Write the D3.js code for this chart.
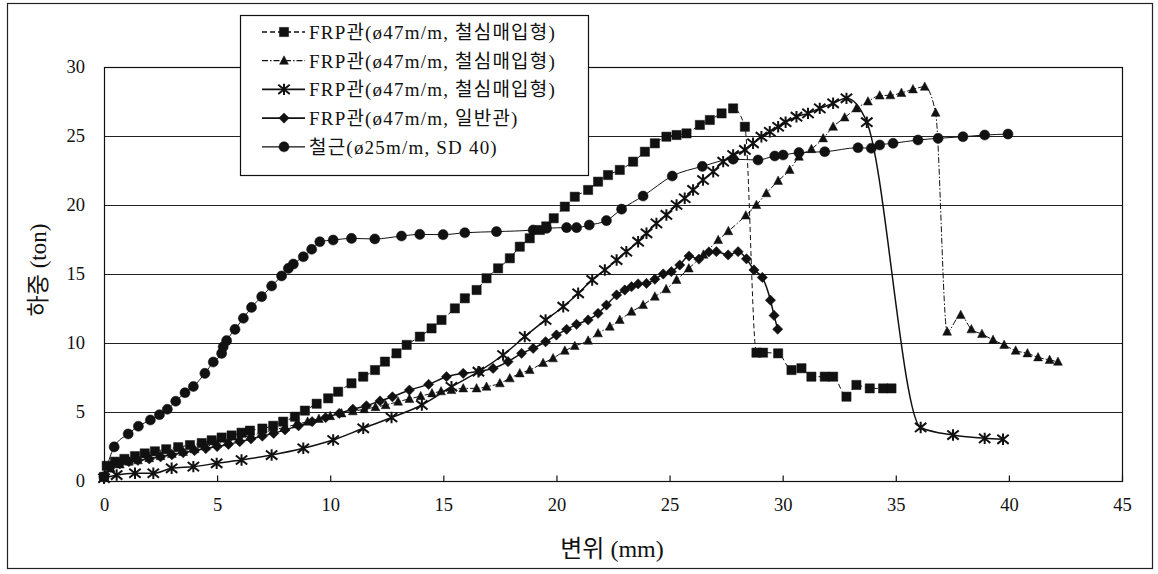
<!DOCTYPE html>
<html><head><meta charset="utf-8">
<script src="https://cdn.jsdelivr.net/npm/d3@7"></script>
<style>body{margin:0;background:#fff}svg{display:block}</style>
</head><body><svg id="c" width="1158" height="574"></svg>
<script>
// ---------------- DATA ----------------
const xTicks = [0,5,10,15,20,25,30,35,40,45];
const yTicks = [0,5,10,15,20,25,30];
const xTitle = "변위 (mm)";
const yTitle = "하중 (ton)";
const seriesNames = [
  "FRP관(ø47m/m, 철심매입형)",
  "FRP관(ø47m/m, 철심매입형)",
  "FRP관(ø47m/m, 철심매입형)",
  "FRP관(ø47m/m, 일반관)",
  "철근(ø25m/m, SD 40)"
];
// series 1 : squares
const s1x = [0,0.12,0.49,0.9,1.37,1.8,2.25,2.75,3.28,3.8,4.32,4.76,5.2,5.64,6.08,6.45,7.0,7.48,7.92,8.44,8.88,9.4,9.91,10.35,10.94,11.46,11.98,12.42,12.93,13.38,13.96,14.48,14.92,15.51,15.95,16.47,16.91,17.42,17.94,18.38,18.82,19.27,19.55,19.88,20.37,20.81,21.40,21.84,22.28,22.80,23.39,23.91,24.35,24.86,25.31,25.75,26.34,26.78,27.30,27.81,28.33,28.84,29.13,29.80,30.39,30.83,31.27,31.86,32.23,32.82,33.26,33.85,34.44,34.81];
const s1y = [0.3,1.1,1.4,1.6,1.8,2.0,2.15,2.3,2.45,2.6,2.75,2.95,3.15,3.3,3.5,3.65,3.8,4.0,4.3,4.66,5.1,5.6,5.99,6.47,7.08,7.56,8.04,8.65,9.25,9.86,10.46,11.06,11.67,12.51,13.24,13.84,14.69,15.41,16.14,16.98,17.59,18.19,18.45,19.04,19.88,20.60,21.09,21.69,22.17,22.54,23.14,23.86,24.47,24.95,25.07,25.19,25.80,26.16,26.64,27.0,25.67,9.30,9.30,9.25,8.04,8.17,7.56,7.56,7.56,6.11,6.96,6.71,6.71,6.71];
// series 2 : triangles
const s2x = [0,0.3,0.7,1.1,1.5,2.0,2.5,3.0,3.5,4.0,4.5,5.0,5.5,6.0,6.5,7.0,7.5,8.0,8.5,9.0,9.5,10.0,10.5,11.0,11.5,12.0,12.45,13.0,13.5,14.0,14.5,14.9,15.36,15.88,16.47,16.91,17.50,17.94,18.38,18.82,19.41,19.85,20.37,20.81,21.40,21.84,22.36,22.80,23.32,23.83,24.35,24.85,25.31,25.85,26.5,27.15,27.6,28.37,28.84,29.28,29.80,30.31,30.72,31.27,31.79,32.23,32.74,33.26,33.77,34.29,34.76,35.25,35.76,36.28,36.76,37.27,37.87,38.34,38.81,39.30,39.79,40.30,40.82,41.29,41.80,42.17];
const s2y = [0.3,0.9,1.2,1.4,1.5,1.65,1.8,1.95,2.1,2.3,2.5,2.7,2.9,3.1,3.3,3.5,3.7,3.9,4.1,4.3,4.5,4.7,4.9,5.05,5.2,5.35,5.5,5.75,5.95,6.15,6.35,6.5,6.59,6.71,6.71,6.83,7.08,7.44,7.80,8.04,8.55,8.89,9.44,9.78,10.17,10.70,11.18,11.67,12.27,12.75,13.36,13.9,14.57,15.4,16.4,17.46,18.1,19.24,20.0,20.85,21.75,22.54,23.5,24.05,24.83,25.67,26.34,27.0,27.5,27.93,27.95,28.12,28.38,28.57,26.69,10.82,12.03,10.99,10.65,10.22,9.86,9.44,9.25,8.96,8.77,8.64];
// series 3 : asterisks
const s3x = [0,0.56,1.37,2.18,2.99,3.95,4.98,6.08,7.41,8.81,10.13,11.46,12.71,14.05,15.36,16.55,17.64,18.60,19.52,20.30,20.96,21.58,22.14,22.66,23.09,23.61,23.98,24.42,24.86,25.31,25.67,26.04,26.48,26.93,27.37,27.81,28.33,28.69,29.06,29.43,29.80,30.13,30.61,31.12,31.64,32.23,32.82,33.72,36.1,37.53,38.93,39.74];
const s3y = [0.2,0.43,0.56,0.56,0.92,1.04,1.28,1.52,1.88,2.37,2.97,3.82,4.6,5.51,6.83,7.92,9.13,10.46,11.67,12.63,13.60,14.57,15.29,16.01,16.62,17.34,17.95,18.67,19.28,20.0,20.49,21.09,21.81,22.41,23.14,23.62,23.99,24.47,24.95,25.31,25.67,26.0,26.40,26.64,27.0,27.37,27.73,26.0,3.88,3.33,3.09,3.02];
// series 4 : diamonds
const s4x = [0,0.3,0.7,1.1,1.5,2.0,2.5,3.0,3.5,4.0,4.5,5.0,5.5,6.0,6.5,7.0,7.5,8.0,8.6,9.2,9.8,10.4,11.0,11.6,12.2,12.75,13.5,14.35,15.14,15.88,16.6,17.2,17.86,18.46,18.97,19.52,20.0,20.45,20.89,21.40,21.84,22.21,22.66,23.02,23.32,23.61,23.98,24.35,24.72,25.08,25.45,25.86,26.3,26.74,27.07,27.59,28.03,28.40,28.73,29.1,29.46,29.62,29.78];
const s4y = [0.3,1.0,1.25,1.4,1.5,1.6,1.75,1.9,2.05,2.2,2.35,2.5,2.65,2.85,3.05,3.25,3.45,3.7,4.0,4.3,4.6,4.9,5.2,5.45,5.8,6.1,6.59,7.0,7.56,7.80,7.95,8.16,8.65,9.25,9.61,10.09,10.58,10.99,11.35,11.67,12.15,12.75,13.48,13.84,14.08,14.28,14.32,14.62,15.0,15.17,15.65,16.3,16.08,16.6,16.62,16.38,16.62,16.1,15.29,14.75,13.1,12.0,11.0];
// series 5 : circles (rebar)
const s5x = [0,0.45,1.07,1.52,2.05,2.45,2.8,3.17,3.58,3.95,4.46,4.83,5.20,5.27,5.42,5.79,6.16,6.52,6.97,7.41,7.85,8.15,8.37,8.81,9.18,9.54,10.13,10.94,11.97,13.15,13.96,14.99,15.95,17.35,18.97,19.56,20.45,20.89,21.45,22.21,22.88,23.83,25.12,26.45,27.81,28.91,29.65,30.02,30.72,31.86,33.33,33.92,34.29,34.88,35.98,36.87,37.97,38.93,39.96];
const s5y = [0.3,2.47,3.41,3.97,4.42,4.8,5.2,5.78,6.4,6.85,7.80,8.62,9.25,9.73,10.17,10.99,11.79,12.58,13.36,14.13,14.86,15.41,15.72,16.25,16.79,17.34,17.46,17.58,17.54,17.75,17.87,17.85,17.99,18.07,18.19,18.31,18.36,18.36,18.55,18.87,19.70,20.65,22.10,22.80,23.32,23.26,23.55,23.62,23.80,23.86,24.15,24.11,24.35,24.47,24.71,24.83,24.95,25.07,25.14];

// ---------------- DRAWING ----------------
const svg = d3.select("#c");
const serif = "'Liberation Serif','DejaVu Serif','Noto Sans CJK KR',serif";
const plot = {l:104, r:1122, t:67, b:481};
const x = d3.scaleLinear().domain([0,45]).range([plot.l, plot.r]);
const y = d3.scaleLinear().domain([0,30]).range([plot.b, plot.t]);

// outer frame
svg.append("rect").attr("x",7.5).attr("y",3.5).attr("width",1145).attr("height",565)
  .attr("fill","#fff").attr("stroke","#222").attr("stroke-width",1.2);

// gridlines
svg.append("g").selectAll("line").data(yTicks.filter(d=>d>0 && d<30)).join("line")
  .attr("x1",plot.l).attr("x2",plot.r).attr("y1",d=>Math.round(y(d))+0.5).attr("y2",d=>Math.round(y(d))+0.5)
  .attr("stroke","#222").attr("stroke-width",1.2);

// plot border
svg.append("rect").attr("x",plot.l+0.5).attr("y",plot.t+0.5).attr("width",plot.r-plot.l).attr("height",plot.b-plot.t)
  .attr("fill","none").attr("stroke","#111").attr("stroke-width",1.2);

// x axis ticks (inside, upward)
const xAxis = d3.axisBottom(x).tickValues(xTicks).tickSize(-6).tickPadding(13).tickFormat(d3.format("d"));
const gx = svg.append("g").attr("transform",`translate(0,${plot.b+0.5})`).call(xAxis);
gx.select(".domain").remove();
gx.selectAll(".tick line").attr("stroke","#111").attr("stroke-width",1.2);
gx.selectAll(".tick text").attr("font-family",serif).attr("font-size",18.5).attr("fill","#111")
  .attr("dy","0.9em");

// y axis labels
const yAxis = d3.axisLeft(y).tickValues(yTicks).tickSize(0).tickPadding(19).tickFormat(d3.format("d"));
const gy = svg.append("g").attr("transform",`translate(${plot.l},0)`).call(yAxis);
gy.select(".domain").remove();
gy.selectAll(".tick text").attr("font-family",serif).attr("font-size",18.5).attr("fill","#111");

// axis titles
svg.append("text").attr("x",612).attr("y",557).attr("text-anchor","middle")
  .attr("font-family",serif).attr("font-size",24).attr("fill","#111").text(xTitle);
svg.append("text").attr("transform","translate(46,270) rotate(-90)").attr("text-anchor","middle")
  .attr("font-family",serif).attr("font-size",23).attr("fill","#111").text(yTitle);

// symbols
const asterisk = {draw(ctx,size){const r=Math.sqrt(size)/2;
  ctx.moveTo(-r,-r*0.8);ctx.lineTo(r,r*0.8);ctx.moveTo(-r,r*0.8);ctx.lineTo(r,-r*0.8);
  ctx.moveTo(0,-r);ctx.lineTo(0,r);}};
const diamond = {draw(ctx,size){const r=Math.sqrt(size)/2*1.35;
  ctx.moveTo(0,-r);ctx.lineTo(r,0);ctx.lineTo(0,r);ctx.lineTo(-r,0);ctx.closePath();}};
const triangle = {draw(ctx,size){const r=Math.sqrt(size)/2;
  ctx.moveTo(0,-r*1.1);ctx.lineTo(r,r*0.8);ctx.lineTo(-r,r*0.8);ctx.closePath();}};

const series = [
  {xs:s1x, ys:s1y, sym:d3.symbolSquare, size:85, dash:"5,3", lw:1, stroke:false},
  {xs:s2x, ys:s2y, sym:triangle, size:78, dash:"6,2,1.5,2", lw:1, stroke:false},
  {xs:s3x, ys:s3y, sym:asterisk, size:130, dash:null, lw:1.5, stroke:true},
  {xs:s4x, ys:s4y, sym:diamond, size:58, dash:null, lw:1.5, stroke:false},
  {xs:s5x, ys:s5y, sym:d3.symbolCircle, size:80, dash:null, lw:1, stroke:false}
];

const line = d3.line().x(d=>x(d[0])).y(d=>y(d[1])).curve(d3.curveMonotoneX);
series.forEach((s,i)=>{
  const pts = s.xs.map((v,j)=>[v, s.ys[j]]);
  const g = svg.append("g");
  g.append("path").datum(pts).attr("d",line).attr("fill","none").attr("stroke","#111")
    .attr("stroke-width",s.lw).attr("stroke-dasharray",s.dash);
  g.selectAll("path.m").data(pts).join("path").attr("class","m")
    .attr("transform",d=>`translate(${x(d[0])},${y(d[1])})`)
    .attr("d",d3.symbol().type(s.sym).size(s.size))
    .attr("fill",s.stroke?"none":"#111").attr("stroke","#111").attr("stroke-width",s.stroke?2:0.5);
});

// legend
const lg = svg.append("g");
lg.append("rect").attr("x",240.5).attr("y",15.5).attr("width",348).attr("height",160)
  .attr("fill","#fff").attr("stroke","#111").attr("stroke-width",1.2);
seriesNames.forEach((name,i)=>{
  const s = series[i];
  const cy = 32 + i*28.7;
  lg.append("line").attr("x1",262).attr("x2",305).attr("y1",cy).attr("y2",cy)
    .attr("stroke","#111").attr("stroke-width",s.lw+0.3).attr("stroke-dasharray",s.dash);
  lg.append("path").attr("transform",`translate(284,${cy})`)
    .attr("d",d3.symbol().type(s.sym).size(s.size))
    .attr("fill",s.stroke?"none":"#111").attr("stroke","#111").attr("stroke-width",s.stroke?2:0.5);
  lg.append("text").attr("x",309).attr("y",cy).attr("dy","0.36em")
    .attr("font-family",serif).attr("font-size",19).attr("letter-spacing",1.2).attr("fill","#111").text(name);
});
</script></body></html>
